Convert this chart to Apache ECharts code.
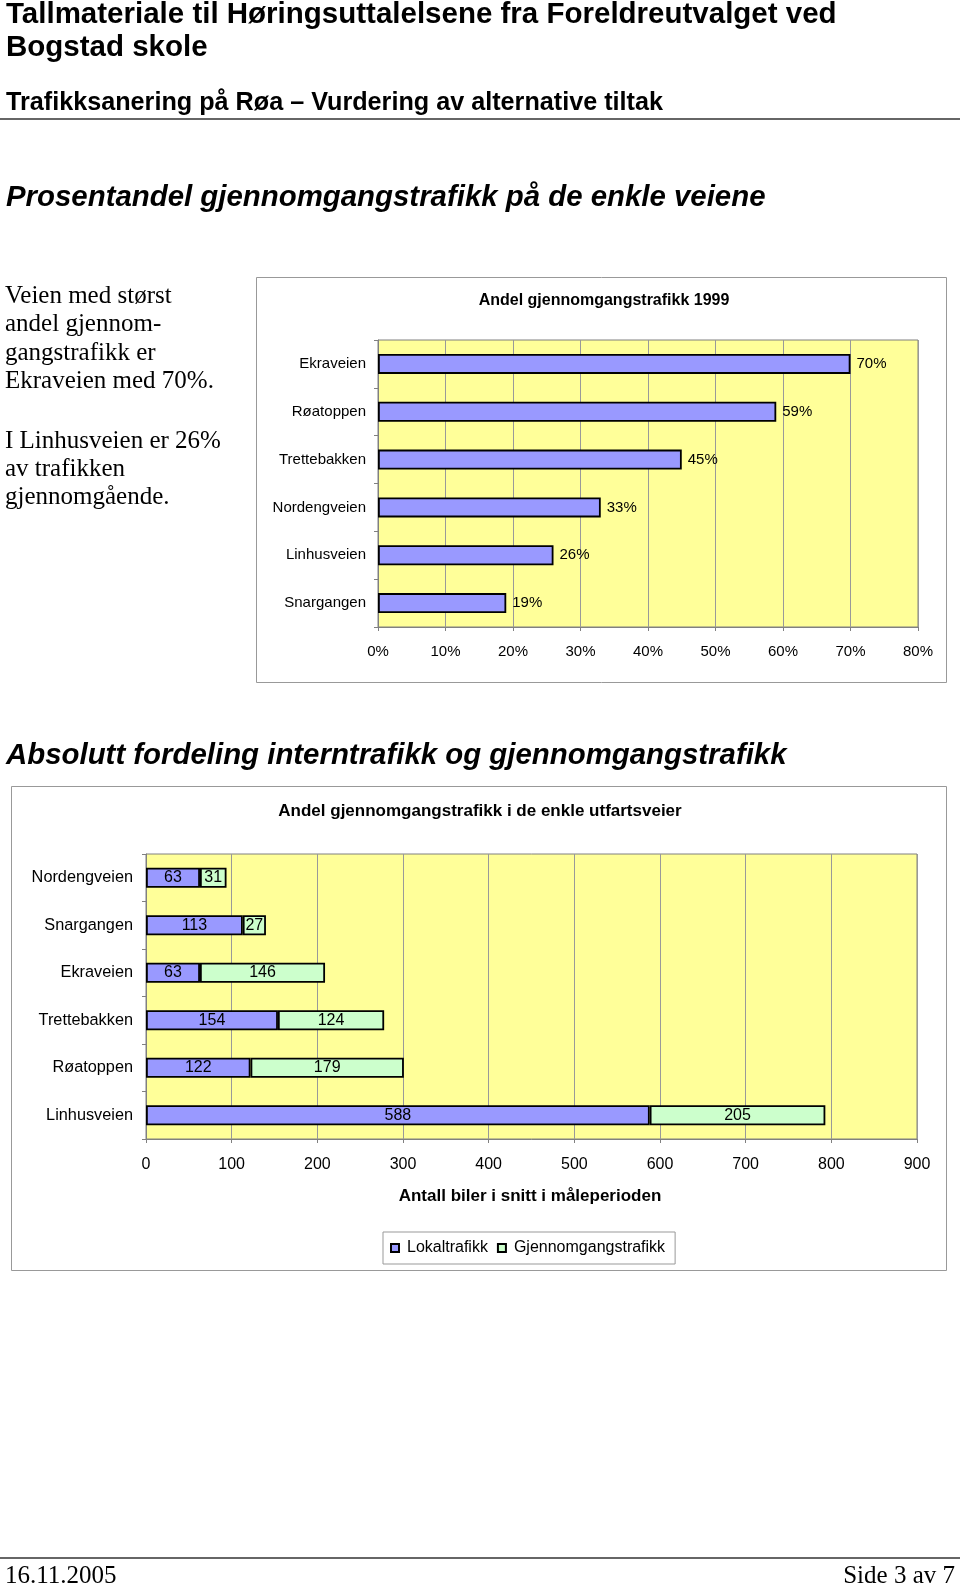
<!DOCTYPE html>
<html>
<head>
<meta charset="utf-8">
<script src="https://cdn.jsdelivr.net/npm/echarts@6/dist/echarts.min.js"></script>
<style>
html,body{margin:0;padding:0;background:#fff;}
#main{width:960px;height:1585px;}
</style>
</head>
<body>
<div id="main"></div>
<script>
// ---- Data ----
const shareCategories = ['Ekraveien', 'Røatoppen', 'Trettebakken', 'Nordengveien', 'Linhusveien', 'Snargangen'];
const shareValues = [70, 59, 45, 33, 26, 19];
const shareTicks = ['0%', '10%', '20%', '30%', '40%', '50%', '60%', '70%', '80%'];

const roadCategories = ['Nordengveien', 'Snargangen', 'Ekraveien', 'Trettebakken', 'Røatoppen', 'Linhusveien'];
const localTraffic = [63, 113, 63, 154, 122, 588];
const throughTraffic = [31, 27, 146, 124, 179, 205];
const seriesNames = ['Lokaltrafikk', 'Gjennomgangstrafikk'];

const SANS = '"Liberation Sans", Arial, sans-serif';
const SERIF = '"Liberation Serif", "Times New Roman", serif';

function txt(text, x, y, font, align, extra) {
  return Object.assign({
    type: 'text', z: 10,
    style: { text: text, x: x, y: y, font: font, fill: '#000',
      align: align || 'left', verticalAlign: 'middle',
      textAlign: align || 'left', textVerticalAlign: 'middle' }
  }, extra || {});
}

const leftLines = [
  ['Veien med størst', 296], ['andel gjennom-', 324.5], ['gangstrafikk er', 353], ['Ekraveien med 70%.', 381.5],
  ['I Linhusveien er 26%', 441], ['av trafikken', 469], ['gjennomgående.', 497]
];

const graphics = [
  // chart boxes
  { type: 'rect', z: -5, shape: { x: 256.5, y: 277.5, width: 690, height: 405 }, style: { fill: '#fff', stroke: '#999', lineWidth: 1 } },
  { type: 'rect', z: -5, shape: { x: 11.5, y: 786.5, width: 935, height: 484 }, style: { fill: '#fff', stroke: '#999', lineWidth: 1 } },
  // header
  txt('Tallmateriale til Høringsuttalelsene fra Foreldreutvalget ved', 6, 15, 'bold 29.5px ' + SANS),
  txt('Bogstad skole', 6, 48, 'bold 29.5px ' + SANS),
  txt('Trafikksanering på Røa – Vurdering av alternative tiltak', 6, 103, 'bold 25.2px ' + SANS),
  { type: 'line', z: 10, shape: { x1: 0, y1: 119, x2: 960, y2: 119 }, style: { stroke: '#666', lineWidth: 2 } },
  txt('Prosentandel gjennomgangstrafikk på de enkle veiene', 6, 198, 'italic bold 29.4px ' + SANS),
  txt('Absolutt fordeling interntrafikk og gjennomgangstrafikk', 6, 756, 'italic bold 29.4px ' + SANS),
  // chart titles
  txt('Andel gjennomgangstrafikk 1999', 604, 301, 'bold 16px ' + SANS, 'center'),
  txt('Andel gjennomgangstrafikk i de enkle utfartsveier', 480, 811, 'bold 17px ' + SANS, 'center'),
  txt('Antall biler i snitt i måleperioden', 530, 1196, 'bold 17px ' + SANS, 'center'),
  // footer
  { type: 'line', z: 10, shape: { x1: 0, y1: 1558, x2: 960, y2: 1558 }, style: { stroke: '#666', lineWidth: 2 } },
  txt('16.11.2005', 5, 1576, '25px ' + SERIF),
  txt('Side 3 av 7', 955, 1576, '25px ' + SERIF, 'right')
];
leftLines.forEach(function (l) { graphics.push(txt(l[0], 5, l[1], '25px ' + SERIF)); });

const chart = echarts.init(document.getElementById('main'), null, { renderer: 'canvas' });

chart.setOption({
  backgroundColor: '#fff',
  animation: false,
  textStyle: { fontFamily: SANS },
  graphic: { elements: graphics },
  legend: {
    data: seriesNames,
    left: 383, top: 1232,
    orient: 'horizontal',
    itemWidth: 8, itemHeight: 8, itemGap: 9,
    padding: [8, 10, 8, 7],
    borderColor: '#999', borderWidth: 1,
    icon: 'rect',
    textStyle: { fontSize: 16, color: '#000', fontFamily: SANS, padding: [0, 0, 0, 3] }
  },
  grid: [
    { left: 378, top: 340, width: 540, height: 287, show: true, backgroundColor: '#FFFF99', borderColor: '#808080', borderWidth: 1, containLabel: false },
    { left: 146, top: 854, width: 771, height: 285, show: true, backgroundColor: '#FFFF99', borderColor: '#808080', borderWidth: 1, containLabel: false }
  ],
  xAxis: [
    {
      gridIndex: 0, type: 'value', min: 0, max: 80, interval: 10,
      axisLine: { show: true, lineStyle: { color: '#808080' } },
      axisTick: { show: true, length: 4, lineStyle: { color: '#808080' } },
      splitLine: { show: true, lineStyle: { color: '#999', width: 1 } },
      axisLabel: { fontSize: 15, color: '#000', margin: 17, formatter: function (v) { return shareTicks[Math.round(v / 10)]; } }
    },
    {
      gridIndex: 1, type: 'value', min: 0, max: 900, interval: 100,
      axisLine: { show: true, lineStyle: { color: '#808080' } },
      axisTick: { show: true, length: 4, lineStyle: { color: '#808080' } },
      splitLine: { show: true, lineStyle: { color: '#999', width: 1 } },
      axisLabel: { fontSize: 16, color: '#000', margin: 18 }
    }
  ],
  yAxis: [
    {
      gridIndex: 0, type: 'category', data: shareCategories, inverse: true,
      axisLine: { show: true, lineStyle: { color: '#808080' } },
      axisTick: { show: true, length: 4, lineStyle: { color: '#808080' } },
      axisLabel: { fontSize: 15, color: '#000', margin: 12 }
    },
    {
      gridIndex: 1, type: 'category', data: roadCategories, inverse: true,
      axisLine: { show: true, lineStyle: { color: '#808080' } },
      axisTick: { show: true, length: 4, lineStyle: { color: '#808080' } },
      axisLabel: { fontSize: 16.3, color: '#000', margin: 13 }
    }
  ],
  series: [
    {
      type: 'bar', name: 'Andel', xAxisIndex: 0, yAxisIndex: 0,
      data: shareValues, barWidth: 20,
      itemStyle: { color: '#9999FF', borderColor: '#000', borderWidth: 1.8 },
      label: { show: true, position: 'right', distance: 6, fontSize: 15, color: '#000', formatter: '{c}%' }
    },
    {
      type: 'bar', name: seriesNames[0], xAxisIndex: 1, yAxisIndex: 1, stack: 'tot',
      data: localTraffic, barWidth: 20,
      itemStyle: { color: '#9999FF', borderColor: '#000', borderWidth: 1.8 },
      label: { show: true, position: 'inside', fontSize: 16, color: '#000' }
    },
    {
      type: 'bar', name: seriesNames[1], xAxisIndex: 1, yAxisIndex: 1, stack: 'tot',
      data: throughTraffic, barWidth: 20,
      itemStyle: { color: '#CCFFCC', borderColor: '#000', borderWidth: 1.8 },
      label: { show: true, position: 'inside', fontSize: 16, color: '#000' }
    }
  ]
});
</script>
</body>
</html>
